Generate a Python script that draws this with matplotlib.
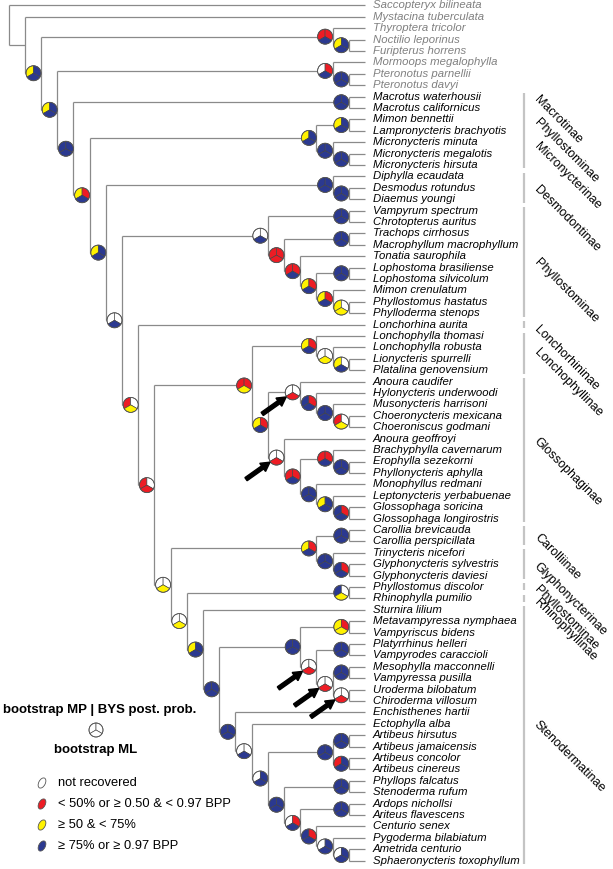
import re
import matplotlib
matplotlib.use("Agg")
import matplotlib.pyplot as plt
from matplotlib.patches import Wedge, Circle, Ellipse, FancyArrow

plt.rcParams['font.family'] = ['Liberation Sans', 'DejaVu Sans']

# tree topology; node labels = support code MP / BYS / ML
# W = not recovered, R = <50% or <0.97 BPP, Y = 50-75%, B = >=75% or >=0.97 BPP
# '*' = node marked with an arrow
tree = """
(Saccopteryx_bilineata,(Mystacina_tuberculata,
((Thyroptera_tricolor,(Noctilio_leporinus,Furipterus_horrens)YBB)RRB,
((Mormoops_megalophylla,(Pteronotus_parnellii,Pteronotus_davyi)BBB)WRB,
((Macrotus_waterhousii,Macrotus_californicus)BBB,
(((Mimon_bennettii,Lampronycteris_brachyotis)YBB,(Micronycteris_minuta,(Micronycteris_megalotis,Micronycteris_hirsuta)BBB)BBB)YBB,
((Diphylla_ecaudata,(Desmodus_rotundus,Diaemus_youngi)BBB)BBB,
(((Vampyrum_spectrum,Chrotopterus_auritus)BBB,((Trachops_cirrhosus,Macrophyllum_macrophyllum)BBB,(Tonatia_saurophila,
((Lophostoma_brasiliense,Lophostoma_silvicolum)BBB,(Mimon_crenulatum,(Phyllostomus_hastatus,Phylloderma_stenops)YWY)YRB)YRB)RRB)RRR)WWB,
(Lonchorhina_aurita,
(((Lonchophylla_thomasi,(Lonchophylla_robusta,(Lionycteris_spurrelli,Platalina_genovensium)YWB)WWY)YRB,
((Anoura_caudifer,(Hylonycteris_underwoodi,(Musonycteris_harrisoni,(Choeronycteris_mexicana,Choeroniscus_godmani)RWY)BBB)BRB)WWR*,
(Anoura_geoffroyi,((Brachyphylla_cavernarum,(Erophylla_sezekorni,Phyllonycteris_aphylla)BBB)RRB,
(Monophyllus_redmani,(Leptonycteris_yerbabuenae,(Glossophaga_soricina,Glossophaga_longirostris)BRB)YBB)BBB)RRB)WWR*)YRB)RRY,
(((Carollia_brevicauda,Carollia_perspicillata)BBB,(Trinycteris_nicefori,(Glyphonycteris_sylvestris,Glyphonycteris_daviesi)BRB)BBB)YRB,
((Phyllostomus_discolor,Rhinophylla_pumilio)BWY,
(Sturnira_lilium,
(((Metavampyressa_nymphaea,Vampyriscus_bidens)YRY,((Platyrrhinus_helleri,Vampyrodes_caraccioli)BBB,
((Mesophylla_macconnelli,Vampyressa_pusilla)BBB,(Uroderma_bilobatum,Chiroderma_villosum)WWR*)WWR*)WWR*)BBB,
(Enchisthenes_hartii,
(Ectophylla_alba,
(((Artibeus_hirsutus,Artibeus_jamaicensis)BBB,(Artibeus_concolor,Artibeus_cinereus)RBB)BBB,
((Phyllops_falcatus,Stenoderma_rufum)BBB,((Ardops_nichollsi,Ariteus_flavescens)BBB,
(Centurio_senex,(Pygoderma_bilabiatum,(Ametrida_centurio,Sphaeronycteris_toxophyllum)WBB)WBB)BRB)WRB)BBB)WBB)WWB)BBB)BBB)YBB)WWY)WWY)RWR)RWY)WWB)YBB)YRB)BBB)YBB)YBB));
"""
n_outgroup = 8

group_bars = [("Macrotus waterhousii", "Micronycteris hirsuta"),
              ("Diphylla ecaudata", "Diaemus youngi"),
              ("Vampyrum spectrum", "Phylloderma stenops"),
              ("Lonchorhina aurita", "Lonchorhina aurita"),
              ("Lonchophylla thomasi", "Platalina genovensium"),
              ("Anoura caudifer", "Glossophaga longirostris"),
              ("Carollia brevicauda", "Carollia perspicillata"),
              ("Trinycteris nicefori", "Glyphonycteris daviesi"),
              ("Phyllostomus discolor", "Phyllostomus discolor"),
              ("Rhinophylla pumilio", "Rhinophylla pumilio"),
              ("Sturnira lilium", "Sphaeronycteris toxophyllum")]

group_labels = ["Macrotinae", "Phyllostominae", "Micronycterinae", "Desmodontinae",
                "Phyllostominae", "Lonchorhininae", "Lonchophyllinae", "Glossophaginae",
                "Carolliinae", "Glyphonycterinae", "Phyllostominae", "Rhinophyllinae",
                "Stenodermatinae"]
label_y = [98, 121, 145, 188, 261, 328, 351, 440, 536, 565, 588, 601, 723]

legend_items = ["not recovered", "< 50% or \u2265 0.50 & < 0.97 BPP",
                "\u2265 50 & < 75%", "\u2265 75% or \u2265 0.97 BPP"]
legend_codes = ["W", "R", "Y", "B"]

colors = {"W": "white", "R": "#ed1c24", "Y": "#fff200", "B": "#2b3990"}
branch_col = "#8a8a8a"


def parse(s):
    s = re.sub(r"\s", "", s)
    pos = 0

    def node():
        nonlocal pos
        if s[pos] == "(":
            pos += 1
            kids = [node()]
            while s[pos] == ",":
                pos += 1
                kids.append(node())
            pos += 1
            m = re.match(r"[WRYB]{3}\*?", s[pos:])
            lab = m.group(0) if m else ""
            pos += len(lab)
            return {"kids": kids, "lab": lab}
        m = re.match(r"[A-Za-z_]+", s[pos:])
        pos += len(m.group(0))
        return {"name": m.group(0).replace("_", " ")}
    return node()


root = parse(tree)

tip_x, step = 365, 16.2
y0, dy = 5.3, 11.405
tips = []


def layout(nd):
    if "name" in nd:
        nd["y"] = y0 + len(tips) * dy
        nd["h"] = 0
        tips.append(nd)
    else:
        for k in nd["kids"]:
            layout(k)
        nd["h"] = max(k["h"] for k in nd["kids"]) + 1
        nd["y"] = (nd["kids"][0]["y"] + nd["kids"][-1]["y"]) / 2
    nd["x"] = tip_x - step * nd["h"]


layout(root)
tip_y = {t["name"]: t["y"] for t in tips}

fig = plt.figure(figsize=(6.13, 8.69), dpi=100)
ax = fig.add_axes([0, 0, 1, 1])
ax.set_xlim(0, 613)
ax.set_ylim(869, 0)
ax.axis("off")

R = 7.5
# screen-angle sectors: MP top-left, BYS top-right, ML bottom
sectors = [(90, 210), (-30, 90), (210, 330)]


def pie(cx, cy, code, r=R):
    for (a0, a1), c in zip(sectors, code):
        ax.add_patch(Wedge((cx, cy), r, -a1, -a0, facecolor=colors[c],
                           edgecolor="#444444", lw=0.45, zorder=5))
    ax.add_patch(Circle((cx, cy), r, fill=False, edgecolor="#555555", lw=0.6, zorder=6))


arrows = []


def draw(nd):
    if "kids" not in nd:
        return
    ax.plot([nd["x"], nd["x"]], [nd["kids"][0]["y"], nd["kids"][-1]["y"]],
            color=branch_col, lw=0.9, solid_capstyle="butt", zorder=1)
    for k in nd["kids"]:
        ax.plot([nd["x"], k["x"]], [k["y"], k["y"]], color=branch_col, lw=0.9,
                solid_capstyle="butt", zorder=1)
        if k.get("lab"):
            cx = k["x"] - R
            pie(cx, k["y"], k["lab"][:3])
            if k["lab"].endswith("*"):
                arrows.append((cx, k["y"]))
        draw(k)


draw(root)

for cx, cy in arrows:
    tx, ty = cx - 6.5, cy + 4.6
    ax.add_patch(FancyArrow(tx - 24, ty + 17, 24, -17, width=3.8, head_width=10,
                            head_length=9, length_includes_head=True,
                            color="black", zorder=7))

for i, t in enumerate(tips):
    ax.text(373, t["y"], t["name"], fontsize=8.2, style="italic", va="center",
            ha="left", color="#808080" if i < n_outgroup else "black")

for a, b in group_bars:
    ax.plot([524, 524], [tip_y[a] - 3.5, tip_y[b] + 3.5], color="#c4c4c4", lw=1.6,
            solid_capstyle="butt")

for lab, y in zip(group_labels, label_y):
    ax.text(536, y, lab, fontsize=9, rotation=-45, rotation_mode="anchor",
            ha="left", va="center")

# legend
ax.text(100, 710, "bootstrap MP | BYS post. prob.", fontsize=9.5, weight="bold",
        ha="center", va="center")
pie(96, 730, "WWW", r=7)
ax.text(96, 750, "bootstrap ML", fontsize=9.5, weight="bold", ha="center", va="center")
for i, (lab, c) in enumerate(zip(legend_items, legend_codes)):
    y = 783 + i * 21
    ax.add_patch(Ellipse((42, y), 11, 6.5, angle=-62, facecolor=colors[c],
                         edgecolor="#555555", lw=0.6))
    ax.text(58, y, lab, fontsize=9.3, ha="left", va="center")

fig.savefig("out.png", dpi=100)
